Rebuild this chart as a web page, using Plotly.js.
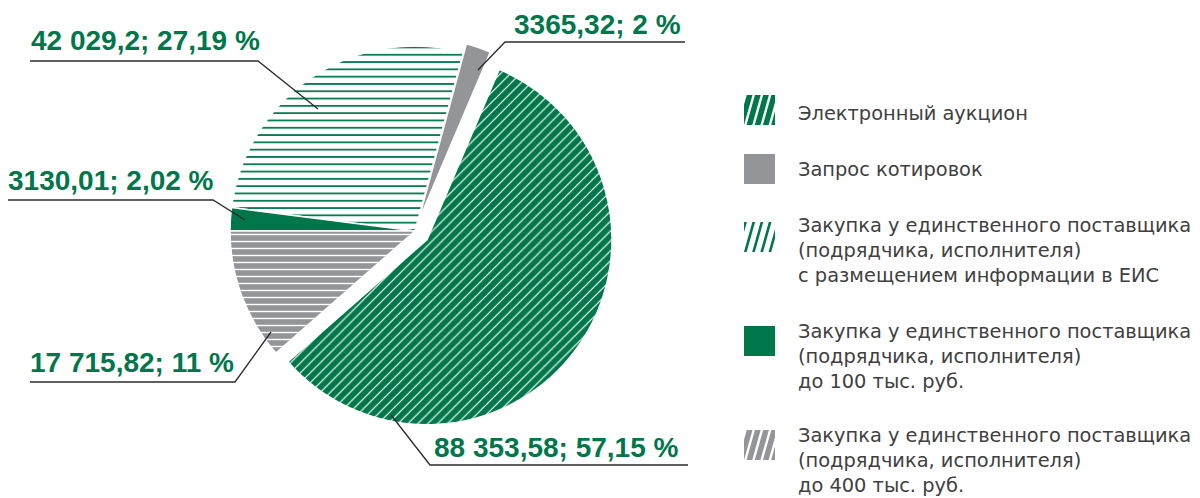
<!DOCTYPE html>
<html>
<head>
<meta charset="utf-8">
<script src="https://cdn.plot.ly/plotly-3.0.1.min.js"></script>
<style>
  html, body { margin: 0; padding: 0; background: #ffffff; }
  #chart { width: 1200px; height: 498px; }
</style>
</head>
<body>
<div id="chart"></div>
<script>
// Procurement methods, amounts (thousand rubles) and stated shares (%)
const categories = [
  'Электронный аукцион',
  'Запрос котировок',
  'Закупка у единственного поставщика (подрядчика, исполнителя) с размещением информации в ЕИС',
  'Закупка у единственного поставщика (подрядчика, исполнителя) до 100 тыс. руб.',
  'Закупка у единственного поставщика (подрядчика, исполнителя) до 400 тыс. руб.'
];
const amounts = [88353.58, 3365.32, 42029.2, 3130.01, 17715.82];
const shares = [57.15, 2, 27.19, 2.02, 11];
const legendLines = [
  ['Электронный аукцион'],
  ['Запрос котировок'],
  ['Закупка у единственного поставщика', '(подрядчика, исполнителя)', 'с размещением информации в ЕИС'],
  ['Закупка у единственного поставщика', '(подрядчика, исполнителя)', 'до 100 тыс. руб.'],
  ['Закупка у единственного поставщика', '(подрядчика, исполнителя)', 'до 400 тыс. руб.']
];

// ---- styling ----
const W = 1200, H = 498;
const GREEN = '#00774b';
const GREY = '#949599';
const X = px => px / W;
const Y = py => 1 - py / H;

// fill style per slice: background, stripe colour, stripe shape
const sliceStyle = [
  { bg: GREEN, fg: '#ffffff', shape: '/', size: 7, solidity: 0.17 },
  { bg: GREY,  fg: GREY,      shape: '',  size: 8, solidity: 0.3 },
  { bg: '#ffffff', fg: GREEN, shape: '-', size: 7.3, solidity: 0.24 },
  { bg: GREEN, fg: GREEN,     shape: '',  size: 8, solidity: 0.3 },
  { bg: GREY,  fg: '#ffffff', shape: '-', size: 7, solidity: 0.2 }
];
const pulls = [0.08, 0.05, 0, 0, 0];

// pie placement (pixels)
const pieCx = 415, pieCy = 231, pieR = 185;
const half = pieR * (1 + Math.max(...pulls));

// number formatting: "88 353,58", "3365,32"
function fmtAmount(v) {
  let s = v.toFixed(2).replace(/0+$/, '').replace(/\.$/, '');
  let [ip, dp] = s.split('.');
  if (ip.length > 4) ip = ip.replace(/\B(?=(\d{3})+(?!\d))/g, ' ');
  return dp ? ip + ',' + dp : ip;
}
function fmtShare(p) { return String(p).replace('.', ','); }

const pieTrace = {
  type: 'pie',
  labels: categories,
  values: amounts,
  sort: false,
  direction: 'counterclockwise',
  rotation: 23,
  pull: pulls,
  textinfo: 'none',
  hoverinfo: 'label+value+percent',
  showlegend: false,
  domain: { x: [X(pieCx - half), X(pieCx + half)], y: [Y(pieCy + half), Y(pieCy - half)] },
  marker: {
    colors: sliceStyle.map(s => s.bg),
    line: { color: '#ffffff', width: 1.5 },
    pattern: {
      shape: sliceStyle.map(s => s.shape),
      bgcolor: sliceStyle.map(s => s.bg),
      fgcolor: sliceStyle.map(s => s.fg),
      size: sliceStyle.map(s => s.size),
      solidity: sliceStyle.map(s => s.solidity),
      fillmode: 'replace'
    }
  }
};

// callouts: text centre-left position and leader polyline (pixels)
const callouts = [
  { x: 433, y: 447, path: [[688, 465], [430, 465], [391, 415]] },
  { x: 513, y: 24,  path: [[685, 42], [505, 42], [478, 70]] },
  { x: 30,  y: 40,  path: [[30, 61], [258, 61], [318, 109]] },
  { x: 7,   y: 180, path: [[8, 200], [213, 200], [245, 220]] },
  { x: 29,  y: 362, path: [[30, 382], [235, 382], [271, 332]] }
];

const annotations = [];
const shapes = [];

callouts.forEach((c, i) => {
  annotations.push({
    xref: 'paper', yref: 'paper', x: X(c.x), y: Y(c.y),
    xanchor: 'left', yanchor: 'middle', showarrow: false, borderpad: 0,
    text: fmtAmount(amounts[i]) + '; ' + fmtShare(shares[i]) + ' %',
    font: { family: 'Liberation Sans, Arial, sans-serif', size: 28, color: GREEN, weight: 'bold' }
  });
  const d = c.path.map((p, k) => (k ? 'L' : 'M') + X(p[0]) + ',' + Y(p[1])).join(' ');
  shapes.push({
    type: 'path', xref: 'paper', yref: 'paper', path: d,
    line: { color: '#2b2b2b', width: 1.3 }
  });
});

// legend: swatch images and captions
function swatch(bg, fg, striped) {
  let svg = '<svg xmlns="http://www.w3.org/2000/svg" width="31" height="30" viewBox="0 0 31 30">' +
    '<rect x="0" y="0" width="31" height="30" fill="' + bg + '"/>';
  if (striped) {
    svg += '<g stroke="' + fg + '" stroke-width="' + (bg === '#ffffff' ? 2.6 : 2.4) + '">';
    for (let k = -1; k < 5; k++) {
      const x0 = k * 8.2 + 1;
      svg += '<line x1="' + x0 + '" y1="31" x2="' + (x0 + 9) + '" y2="-1"/>';
    }
    svg += '</g>';
  }
  svg += '</svg>';
  return 'data:image/svg+xml;charset=utf-8,' + encodeURIComponent(svg);
}

const legendSwatches = [
  { bg: GREEN, fg: '#ffffff', striped: true },
  { bg: GREY, fg: GREY, striped: false },
  { bg: '#ffffff', fg: GREEN, striped: true },
  { bg: GREEN, fg: GREEN, striped: false },
  { bg: GREY, fg: '#ffffff', striped: true }
];
const legendSwatchTop = [95, 154, 222, 326, 430];
const legendTextTop = [101, 157, 213, 319, 423];

const images = legendSwatches.map((s, i) => ({
  source: swatch(s.bg, s.fg, s.striped),
  xref: 'paper', yref: 'paper', x: X(744), y: Y(legendSwatchTop[i]),
  sizex: 31 / W, sizey: 30 / H, xanchor: 'left', yanchor: 'top',
  sizing: 'stretch', layer: 'above'
}));

legendLines.forEach((lines, i) => {
  annotations.push({
    xref: 'paper', yref: 'paper', x: X(797), y: Y(legendTextTop[i]),
    xanchor: 'left', yanchor: 'top', align: 'left', showarrow: false, borderpad: 0,
    text: lines.join('<br>'),
    font: { family: 'DejaVu Sans, Noto Sans, sans-serif', size: 19.4, color: '#404040' }
  });
});

const layout = {
  width: W, height: H,
  margin: { l: 0, r: 0, t: 0, b: 0 },
  paper_bgcolor: '#ffffff',
  plot_bgcolor: '#ffffff',
  showlegend: false,
  annotations: annotations,
  shapes: shapes,
  images: images
};

Plotly.newPlot('chart', [pieTrace], layout, { displayModeBar: false, staticPlot: true });
</script>
</body>
</html>
